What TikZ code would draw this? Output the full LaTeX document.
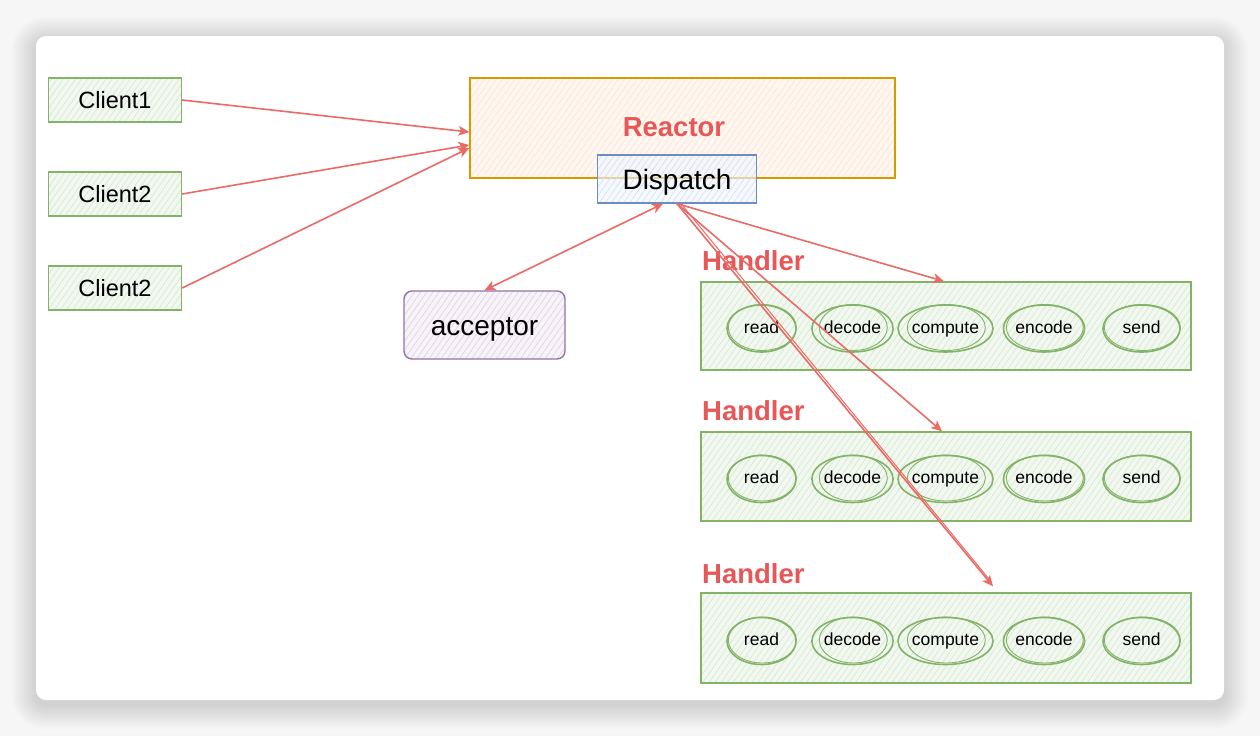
\documentclass[tikz,border=0pt]{standalone}
\usepackage{fontspec}
\setmainfont{Liberation Sans}
\usetikzlibrary{patterns.meta,arrows.meta,calc,shapes.geometric}
\definecolor{redarrow}{HTML}{EA6B66}
\definecolor{redtext}{HTML}{E85757}
\definecolor{gstroke}{HTML}{82B366}
\definecolor{gfill}{HTML}{F2F8F0}
\definecolor{ghatch}{HTML}{D3E7D1}
\definecolor{ostroke}{HTML}{D79B00}
\definecolor{ofill}{HTML}{FFF8F2}
\definecolor{ohatch}{HTML}{FFE1C8}
\definecolor{bstroke}{HTML}{6C8EBF}
\definecolor{bfill}{HTML}{F1F6FD}
\definecolor{bhatch}{HTML}{D0E0F8}
\definecolor{pstroke}{HTML}{9673A6}
\definecolor{pfill}{HTML}{F7F3F9}
\definecolor{phatch}{HTML}{DED0E5}
\definecolor{pagebg}{HTML}{F6F6F6}
\tikzset{
  hatchfill/.style n args={2}{preaction={fill=#1}, pattern={Lines[angle=55,distance=5pt,line width=0.6pt]}, pattern color=#2},
  clientbox/.style={draw=gstroke, line width=1.4pt, hatchfill={gfill}{ghatch}, minimum width=133pt, minimum height=44pt, inner sep=0pt, font=\fontsize{23.5}{25}\selectfont},
  reactorbox/.style={draw=ostroke, line width=1.4pt, hatchfill={ofill}{ohatch}, minimum width=425pt, minimum height=100pt, inner sep=0pt},
  dispatchbox/.style={draw=bstroke, line width=1.4pt, preaction={fill=bfill, fill opacity=0.6}, pattern={Lines[angle=55,distance=5pt,line width=0.6pt]}, pattern color=bhatch, minimum width=159pt, minimum height=48pt, inner sep=0pt, font=\fontsize{28}{30}\selectfont},
  acceptorbox/.style={draw=pstroke, line width=1.4pt, rounded corners=8pt, hatchfill={pfill}{phatch}, minimum width=161pt, minimum height=68pt, inner sep=0pt, font=\fontsize{28}{30}\selectfont},
  handlerbox/.style={draw=gstroke, line width=1.4pt, hatchfill={gfill}{ghatch}, minimum width=490pt, inner sep=0pt},
  redlabel/.style={text=redtext, font=\bfseries\fontsize{27.5}{30}\selectfont, inner sep=0pt},
  stepellipse/.style={ellipse, draw=gstroke, line width=1.6pt, hatchfill={gfill}{ghatch}, minimum height=47pt, inner sep=0pt, text height=0.9em, text depth=0em, font=\fontsize{17.5}{19}\selectfont},
  arr/.style={draw=redarrow, line width=1.6pt, -{Stealth[length=11pt,width=10pt,inset=3pt]}},
  biarr/.style={draw=redarrow, line width=1.6pt, {Stealth[length=11pt,width=10pt,inset=3pt]}-{Stealth[length=11pt,width=10pt,inset=3pt]}},
}
\begin{document}
\begin{tikzpicture}[x=1pt,y=-1pt]
\useasboundingbox (0,0) rectangle (1260,736);
% page and card
\fill[pagebg] (0,0) rectangle (1260,736);
\foreach \i in {24,22,...,2} {
  \fill[black, opacity=0.012, rounded corners=10pt+\i pt] (36-\i,36-\i+5) rectangle (1224+\i,700+\i+5);
}
\fill[white, rounded corners=10pt] (36,36) rectangle (1224,700);

% clients
\node[clientbox] (c1) at (115,100) {Client1};
\node[clientbox] (c2) at (115,194) {Client2};
\node[clientbox] (c3) at (115,288) {Client2};

% reactor
\node[reactorbox] (reactor) at (682.5,128) {};
\node[redlabel] (reactorlabel) at (674,127) {Reactor};
\node[dispatchbox] (dispatch) at (677,179) {\raisebox{-3pt}[\height][\depth]{Dispatch}};

% acceptor
\node[acceptorbox] (acceptor) at (484.5,325) {\raisebox{-4pt}[\height][\depth]{acceptor}};

% handlers
\node[handlerbox, minimum height=88pt] (h1) at (946,326) {};
\node[handlerbox, minimum height=89pt] (h2) at (946,476.5) {};
\node[handlerbox, minimum height=90pt] (h3) at (946,638) {};
\node[redlabel, anchor=west] (hl1) at (702,261) {Handler};
\node[redlabel, anchor=west] (hl2) at (702,411) {Handler};
\node[redlabel, anchor=west] (hl3) at (702,574) {Handler};

\foreach \h/\y in {1/328.5,2/479,3/641} {
  \foreach \n/\x/\w in {read/761.5/69,decode/852.5/69,compute/945.5/79,encode/1044/78,send/1141.5/77} {
    \node[stepellipse, minimum width=\w pt] (h\h\n) at (\x,\y) {\n};
    \draw[gstroke, line width=0.9pt] ($(h\h\n.center)+(0.8,-1)$) ellipse [x radius=\w/2-0.5, y radius=23];
  }
}

% coordinates for connector ends
\coordinate (r1) at ($(reactor.west)+(0,4)$);
\coordinate (r2) at ($(reactor.west)+(0,17)$);
\coordinate (r3) at ($(reactor.west)+(0,20)$);
\coordinate (dl) at ($(dispatch.south)+(-14,0)$);
\coordinate (t1) at ($(h1.north)+(-2,0)$);
\coordinate (t2) at ($(h2.north)+(-4,0)$);
\coordinate (t3) at ($(h3.north)+(47,-6)$);

% connectors
\draw[arr] (c1.east) -- (r1);
\draw[arr] (c2.east) -- (r2);
\draw[arr] (c3.east) -- (r3);
\draw[biarr] (dl) -- (acceptor.north);
\draw[arr] (dispatch.south) -- (t1);
\draw[arr] (dispatch.south) -- (t2);
\draw[arr] (dispatch.south) -- (t3);
\draw[draw=redarrow, line width=1pt] ($(dispatch.south)+(4,0)$) -- ($(t3)+(-3,-6)$);
\end{tikzpicture}
\end{document}
